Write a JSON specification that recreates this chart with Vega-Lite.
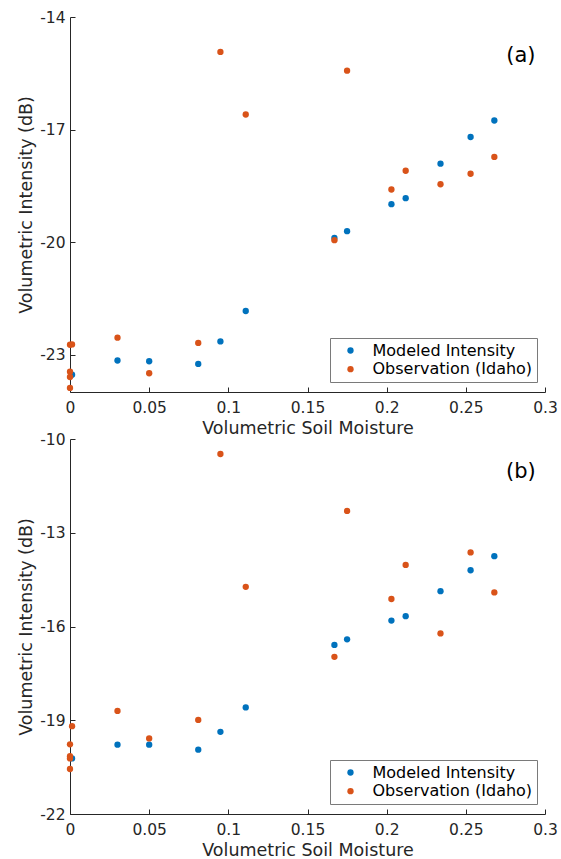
{
  "$schema": "https://vega.github.io/schema/vega-lite/v6.json",
  "padding": {"left": 17, "top": 10, "right": 3, "bottom": 3},
  "bounds": "flush",
  "spacing": 47,
  "background": "white",
  "config": {
    "font": "DejaVu Sans",
    "view": {"stroke": null},
    "axis": {
      "domainColor": "#262626",
      "tickColor": "#262626",
      "labelColor": "#262626",
      "titleColor": "#262626",
      "labelFont": "DejaVu Sans",
      "titleFont": "DejaVu Sans",
      "labelFontSize": 15.5,
      "titleFontSize": 17.5,
      "titleFontWeight": "normal",
      "grid": false,
      "tickSize": -5,
      "labelFlush": false,
      "domainWidth": 1,
      "tickWidth": 1
    },
    "legend": {
      "labelFont": "DejaVu Sans",
      "labelFontSize": 16,
      "labelColor": "#000000",
      "strokeColor": "#7a7a7a",
      "fillColor": "white",
      "padding": 4.5,
      "rowPadding": 2.7,
      "symbolOffset": 8,
      "labelOffset": 14,
      "symbolSize": 40,
      "symbolType": "circle"
    }
  },
  "datasets": {
    "a": [
      {"sm": 0.0013, "db": -23.54, "series": "Modeled Intensity"},
      {"sm": 0.030, "db": -23.16, "series": "Modeled Intensity"},
      {"sm": 0.050, "db": -23.18, "series": "Modeled Intensity"},
      {"sm": 0.081, "db": -23.25, "series": "Modeled Intensity"},
      {"sm": 0.095, "db": -22.65, "series": "Modeled Intensity"},
      {"sm": 0.111, "db": -21.84, "series": "Modeled Intensity"},
      {"sm": 0.167, "db": -19.89, "series": "Modeled Intensity"},
      {"sm": 0.175, "db": -19.71, "series": "Modeled Intensity"},
      {"sm": 0.203, "db": -18.99, "series": "Modeled Intensity"},
      {"sm": 0.212, "db": -18.83, "series": "Modeled Intensity"},
      {"sm": 0.234, "db": -17.91, "series": "Modeled Intensity"},
      {"sm": 0.253, "db": -17.20, "series": "Modeled Intensity"},
      {"sm": 0.268, "db": -16.76, "series": "Modeled Intensity"},
      {"sm": 0.0, "db": -22.74, "series": "Observation (Idaho)"},
      {"sm": 0.0013, "db": -22.73, "series": "Observation (Idaho)"},
      {"sm": 0.0, "db": -23.46, "series": "Observation (Idaho)"},
      {"sm": 0.0, "db": -23.60, "series": "Observation (Idaho)"},
      {"sm": 0.0, "db": -23.89, "series": "Observation (Idaho)"},
      {"sm": 0.030, "db": -22.55, "series": "Observation (Idaho)"},
      {"sm": 0.050, "db": -23.50, "series": "Observation (Idaho)"},
      {"sm": 0.081, "db": -22.69, "series": "Observation (Idaho)"},
      {"sm": 0.095, "db": -14.93, "series": "Observation (Idaho)"},
      {"sm": 0.111, "db": -16.60, "series": "Observation (Idaho)"},
      {"sm": 0.167, "db": -19.95, "series": "Observation (Idaho)"},
      {"sm": 0.175, "db": -15.43, "series": "Observation (Idaho)"},
      {"sm": 0.203, "db": -18.60, "series": "Observation (Idaho)"},
      {"sm": 0.212, "db": -18.10, "series": "Observation (Idaho)"},
      {"sm": 0.234, "db": -18.46, "series": "Observation (Idaho)"},
      {"sm": 0.253, "db": -18.18, "series": "Observation (Idaho)"},
      {"sm": 0.268, "db": -17.73, "series": "Observation (Idaho)"}
    ],
    "b": [
      {"sm": 0.0013, "db": -20.22, "series": "Modeled Intensity"},
      {"sm": 0.030, "db": -19.78, "series": "Modeled Intensity"},
      {"sm": 0.050, "db": -19.78, "series": "Modeled Intensity"},
      {"sm": 0.081, "db": -19.94, "series": "Modeled Intensity"},
      {"sm": 0.095, "db": -19.37, "series": "Modeled Intensity"},
      {"sm": 0.111, "db": -18.59, "series": "Modeled Intensity"},
      {"sm": 0.167, "db": -16.59, "series": "Modeled Intensity"},
      {"sm": 0.175, "db": -16.41, "series": "Modeled Intensity"},
      {"sm": 0.203, "db": -15.81, "series": "Modeled Intensity"},
      {"sm": 0.212, "db": -15.67, "series": "Modeled Intensity"},
      {"sm": 0.234, "db": -14.87, "series": "Modeled Intensity"},
      {"sm": 0.253, "db": -14.20, "series": "Modeled Intensity"},
      {"sm": 0.268, "db": -13.75, "series": "Modeled Intensity"},
      {"sm": 0.0013, "db": -19.19, "series": "Observation (Idaho)"},
      {"sm": 0.0, "db": -19.77, "series": "Observation (Idaho)"},
      {"sm": 0.0, "db": -20.15, "series": "Observation (Idaho)"},
      {"sm": 0.0, "db": -20.22, "series": "Observation (Idaho)"},
      {"sm": 0.0, "db": -20.56, "series": "Observation (Idaho)"},
      {"sm": 0.030, "db": -18.70, "series": "Observation (Idaho)"},
      {"sm": 0.050, "db": -19.58, "series": "Observation (Idaho)"},
      {"sm": 0.081, "db": -18.99, "series": "Observation (Idaho)"},
      {"sm": 0.095, "db": -10.48, "series": "Observation (Idaho)"},
      {"sm": 0.111, "db": -14.73, "series": "Observation (Idaho)"},
      {"sm": 0.167, "db": -16.97, "series": "Observation (Idaho)"},
      {"sm": 0.175, "db": -12.30, "series": "Observation (Idaho)"},
      {"sm": 0.203, "db": -15.12, "series": "Observation (Idaho)"},
      {"sm": 0.212, "db": -14.03, "series": "Observation (Idaho)"},
      {"sm": 0.234, "db": -16.22, "series": "Observation (Idaho)"},
      {"sm": 0.253, "db": -13.63, "series": "Observation (Idaho)"},
      {"sm": 0.268, "db": -14.91, "series": "Observation (Idaho)"}
    ],
    "labels": [
      {"panel": "a", "sm": 0.2848, "db": -15.03, "text": "(a)"},
      {"panel": "b", "sm": 0.2848, "db": -11.07, "text": "(b)"}
    ]
  },
  "resolve": {"legend": {"color": "independent"}, "scale": {"y": "independent", "color": "independent"}},
  "vconcat": [
    {
      "width": 475,
      "height": 375,
      "layer": [
        {
          "data": {"name": "a"},
          "mark": {"type": "point", "filled": true, "opacity": 1, "size": 40, "shape": "circle"},
          "encoding": {
            "x": {"field": "sm", "type": "quantitative", "scale": {"domain": [0, 0.3], "nice": false, "zero": false},
              "axis": {"title": "Volumetric Soil Moisture", "values": [0, 0.05, 0.1, 0.15, 0.2, 0.25, 0.3], "labelExpr": "'' + datum.value", "labelPadding": 13, "titlePadding": 4}},
            "y": {"field": "db", "type": "quantitative", "scale": {"domain": [-24, -14], "nice": false, "zero": false},
              "axis": {"title": "Volumetric Intensity (dB)", "values": [-23, -20, -17, -14], "labelExpr": "'' + datum.value", "labelPadding": 10, "titlePadding": 4}},
            "color": {"field": "series", "type": "nominal",
              "scale": {"domain": ["Modeled Intensity", "Observation (Idaho)"], "range": ["#0072BD", "#D95319"]},
              "legend": {"title": null, "orient": "none", "legendX": 260, "legendY": 321}}
          }
        },
        {
          "data": {"name": "labels"},
          "transform": [{"filter": "datum.panel == 'a'"}],
          "mark": {"type": "text", "fontSize": 21, "font": "DejaVu Sans", "color": "#000000", "align": "center", "baseline": "middle"},
          "encoding": {
            "x": {"field": "sm", "type": "quantitative"},
            "y": {"field": "db", "type": "quantitative"},
            "text": {"field": "text"}
          }
        }
      ]
    },
    {
      "width": 475,
      "height": 375,
      "layer": [
        {
          "data": {"name": "b"},
          "mark": {"type": "point", "filled": true, "opacity": 1, "size": 40, "shape": "circle"},
          "encoding": {
            "x": {"field": "sm", "type": "quantitative", "scale": {"domain": [0, 0.3], "nice": false, "zero": false},
              "axis": {"title": "Volumetric Soil Moisture", "values": [0, 0.05, 0.1, 0.15, 0.2, 0.25, 0.3], "labelExpr": "'' + datum.value", "labelPadding": 13, "titlePadding": 4}},
            "y": {"field": "db", "type": "quantitative", "scale": {"domain": [-22, -10], "nice": false, "zero": false},
              "axis": {"title": "Volumetric Intensity (dB)", "values": [-22, -19, -16, -13, -10], "labelExpr": "'' + datum.value", "labelPadding": 10, "titlePadding": 4}},
            "color": {"field": "series", "type": "nominal",
              "scale": {"domain": ["Modeled Intensity", "Observation (Idaho)"], "range": ["#0072BD", "#D95319"]},
              "legend": {"title": null, "orient": "none", "legendX": 260, "legendY": 321}}
          }
        },
        {
          "data": {"name": "labels"},
          "transform": [{"filter": "datum.panel == 'b'"}],
          "mark": {"type": "text", "fontSize": 21, "font": "DejaVu Sans", "color": "#000000", "align": "center", "baseline": "middle"},
          "encoding": {
            "x": {"field": "sm", "type": "quantitative"},
            "y": {"field": "db", "type": "quantitative"},
            "text": {"field": "text"}
          }
        }
      ]
    }
  ]
}
